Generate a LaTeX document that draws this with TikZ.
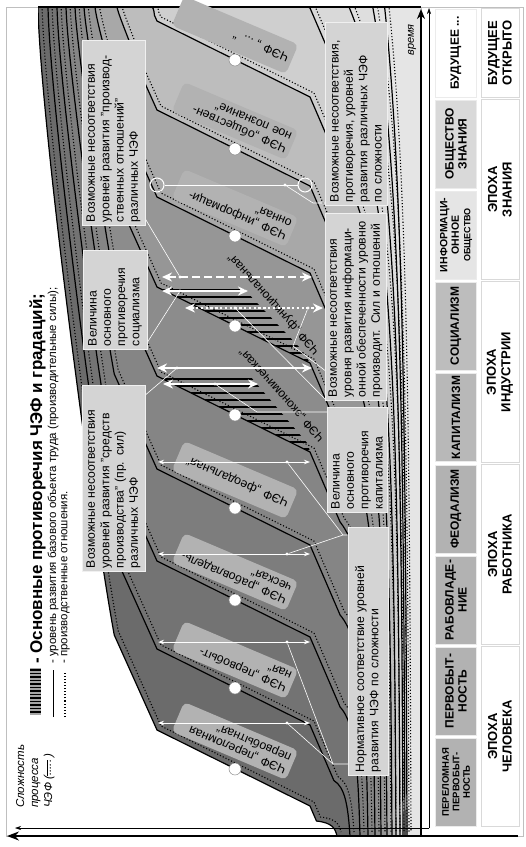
\documentclass[tikz,border=0pt]{standalone}
\usepackage{fontspec}
\setmainfont{Liberation Sans}
\usetikzlibrary{arrows.meta}

% curve of one CEF: circle height #1, top end #2, bottom end #3
\newcommand\setcef[3]{%
  \pgfmathsetmacro\Ay{#1-40}%
  \pgfmathsetmacro\By{#1+36}%
  \pgfmathsetmacro\hup{max(0,min(95,0.4*(\Ay-7)))}%
  \pgfmathsetmacro\Qx{157-0.45*\hup}%
  \pgfmathsetmacro\Qy{\Ay-\hup}%
  \pgfmathsetmacro\Lu{\Qy-7}%
  \pgfmathsetmacro\hlow{min(70,0.5*(836-\By))}%
  \pgfmathsetmacro\Px{310+0.43*\hlow}%
  \pgfmathsetmacro\Py{\By+\hlow}%
  \pgfmathsetmacro\Ml{836-\Py}%
  \edef\cefpath{(#2,7) .. controls ({#2+2},{7+0.17*(\Lu)}) and ({\Qx-0.04*(\Lu)},{\Qy-0.22*(\Lu)}) .. (\Qx,\Qy) -- (157,\Ay) -- (310,\By) -- (\Px,\Py) .. controls ({#3-5},{\Py+0.12*(\Ml)}) and ({#3-2},{\Py+0.45*(\Ml)}) .. (#3,836)}%
}
\def\ceflist{770/38/337/58, 689/48/350/55, 601/57/360/51, 509/66/368/48,
  416/75/375/45, 327/84/381/41, 237/95/387/34, 150/117/392/26, 61/152/396/19,
  -28/157/400/15, -117/157/403/13, -206/157/405/11, -295/157/407/10}
\newcommand\cefsym{\raisebox{5pt}{\rule{16pt}{0.5pt}}\kern-16pt\raisebox{1pt}{\makebox[16pt][s]{.\hfil.\hfil.\hfil.\hfil.}}}

\tikzset{
  lvl/.style={line width=1.2pt, black},
  rel/.style={line width=1.1pt, black, dash pattern=on 1.1pt off 2pt},
  knot/.style={circle, fill=white, draw=black!45, line width=0.5pt, minimum size=12pt, inner sep=0pt},
  ring/.style={circle, draw=white, line width=1pt, minimum size=14pt, inner sep=0pt},
  pin/.style={circle, fill=white, minimum size=3.2pt, inner sep=0pt},
  cefbox/.style={rotate=157, rounded corners=5pt, fill=black!30, minimum width=124pt, minimum height=32pt, text width=116pt, inner sep=3pt, align=left, font=\fontsize{12.3}{13}\selectfont},
  ceftxt/.style={rotate=132, inner sep=0pt, font=\fontsize{12}{13}\selectfont},
  note/.style={rotate=90, fill=black!17, draw=black!6, line width=1pt, inner sep=3pt, align=left, font=\fontsize{12.2}{14.3}\selectfont},
  gapsm/.style={white, line width=0.8pt, arrows={Stealth[length=6pt,width=4.5pt]-Stealth[length=6pt,width=4.5pt]}},
  gapbg/.style={white, line width=2.4pt, arrows={Stealth[length=10pt,width=9pt]-Stealth[length=10pt,width=9pt]}},
  link/.style={white, line width=0.6pt},
  era/.style={rotate=90, minimum width=88pt, minimum height=41pt, inner sep=1pt, align=center, draw=black!8, line width=1pt, font=\bfseries\fontsize{12}{13}\selectfont},
  age/.style={rotate=90, minimum height=38pt, inner sep=1pt, align=center, fill=white, draw=black!15, line width=0.8pt, font=\bfseries\fontsize{13}{14.5}\selectfont},
  legend/.style={rotate=90, anchor=west, inner sep=0pt},
}

\begin{document}
\begin{tikzpicture}[x=1pt, y=-1pt]
\useasboundingbox (0,0) rectangle (526,847);
\fill[white] (0,0) rectangle (526,847);
\draw[black!25, line width=0.6pt] (6,7) rectangle (523,836);

% bands of the CEF
\begin{scope}
  \clip (38,7) rectangle (421,836);
  \foreach \cy/\xt/\xb/\g in \ceflist {%
    \setcef{\cy}{\xt}{\xb}%
    \fill[black!\g] \cefpath -- (421,836) -- (421,7) -- cycle;
  }
  % main contradictions
  \begin{scope}
    \clip (157,376) -- (250,376) -- (308,444) -- (310,452) -- cycle;
    \foreach \y in {379,386,...,452} \draw[line width=2.4pt] (150,\y) -- (320,\y);
  \end{scope}
  \begin{scope}
    \clip (157,287) -- (242,287) -- (302,350) -- (310,363) -- cycle;
    \foreach \y in {290,297,...,363} \draw[line width=2.4pt] (150,\y) -- (320,\y);
  \end{scope}
  \foreach \cy/\xt/\xb/\g in \ceflist {%
    \setcef{\cy}{\xt}{\xb}%
    \draw[rel, shift={(4,-4)}] \cefpath;
    \draw[lvl] \cefpath;
  }
\end{scope}
\draw[line width=1.4pt] (38,7) -- (421,7);

% CEF labels
\node[cefbox] (cef0) at (235,741) {ЧЭФ „переломная\\первобытная“};
\node[cefbox] (cef1) at (235,660) {ЧЭФ „первобыт-\\ная“};
\node[cefbox] (cef2) at (235,572) {ЧЭФ „рабовладель-\\ческая“};
\node[cefbox] (cef3) at (235,480) {ЧЭФ „феодальная“};
\node[ceftxt] (cef4) at (282,395) {ЧЭФ „экономическая“};
\node[ceftxt] (cef5) at (274,304) {ЧЭФ „функциональная“};
\node[cefbox] (cef6) at (235,208) {ЧЭФ „информаци-\\онная“};
\node[cefbox] (cef7) at (235,121) {ЧЭФ „обществен-\\ное познание“};
\node[cefbox] (cef8) at (235,35) {ЧЭФ „ ... “};

% gaps between neighbouring CEF
\foreach \k/\y in {0/723, 1/642, 2/554, 3/462} {
  \coordinate (gl\k) at (158,\y);
  \coordinate (gr\k) at (310,\y);
  \draw[gapsm] (gl\k) -- (gr\k);
  \node[pin] (gp\k) at (287,\y) {};
}
\coordinate (cl1) at (157,368); \coordinate (cr1) at (312,368);
\draw[gapbg] (cl1) -- (cr1);
\node[pin] (cp1) at (177,368) {};
\coordinate (hl1) at (163,384); \coordinate (hr1) at (258,384);
\draw[gapbg] (hl1) -- (hr1);
\node[pin] (hp1) at (215,384) {};
\coordinate (sl1) at (162,277); \coordinate (sr1) at (312,277);
\draw[gapbg, dash pattern=on 8pt off 4pt] (sl1) -- (sr1);
\node[pin] (sp1) at (180,277) {};
\coordinate (sl2) at (162,291); \coordinate (sr2) at (248,291);
\draw[gapbg] (sl2) -- (sr2);
\node[pin] (sp2) at (180,291) {};
\coordinate (sl3) at (185,308); \coordinate (sr3) at (323,308);
\draw[gapbg, dash pattern=on 2.4pt off 2.4pt] (sl3) -- (sr3);
\node[pin] (sp3) at (235,308) {};
\node[pin] (sp4) at (308,308) {};
\node[ring] (rg1) at (157,185) {};
\node[ring] (rg2) at (305,185) {};
\draw[link, line width=1pt] (rg1) -- (rg2);
\node[pin] (rp) at (285,185) {};

% circles on the levels
\foreach \cy [count=\k from 0] in {770,689,601,509,416,327,237,150,61}
  \node[knot] (kn\k) at (235,{\cy-1}) {};

% links to the notes
\coordinate (kneeA) at (333,764); \coordinate (nnA) at (350,764);
\coordinate (kneeB) at (343,535); \coordinate (nnB) at (350,535);
\coordinate (mnE) at (143,397);
\coordinate (kneeC) at (257,412); \coordinate (cpE) at (329,412);
\coordinate (prE) at (143,215);
\coordinate (soE) at (145,346);
\coordinate (inE) at (327,401);
\coordinate (kneeD) at (293,346); \coordinate (inF) at (327,372);
\coordinate (kneeE) at (313,203); \coordinate (gpE) at (327,203);
\draw[link] (gp0) -- (kneeA) -- (nnA);
\draw[link] (gp1) -- (kneeA);
\draw[link] (gp2) -- (kneeB) -- (nnB);
\draw[link] (gp3) -- (kneeB);
\draw[link] (cp1) -- (mnE);
\draw[link] (hp1) -- (kneeC) -- (cpE);
\draw[link] (sp1) -- (prE);
\draw[link] (sp2) -- (soE);
\draw[link] (sp3) -- (inE);
\draw[link] (sp4) -- (kneeD) -- (inF);
\draw[link] (rp) -- (kneeE) -- (gpE);

% notes
\node[note, text width=179pt, minimum height=63pt] (nprod) at (113.5,132.5) {Возможные несоответствия\\уровней развития "производ-\\ственных отношений"\\различных ЧЭФ};
\node[note, text width=93pt, minimum height=64pt] (nsoc) at (115,299.5) {Величина\\основного\\противоречия\\социализма};
\node[note, text width=180pt, minimum height=63pt] (nmean) at (113.5,478) {Возможные несоответствия\\уровней развития "средств\\производства" (пр. сил)\\различных ЧЭФ};
\node[note, text width=242pt, minimum height=40pt] (nnorm) at (368,651) {Нормативное соответствие уровней\\развития ЧЭФ по сложности};
\node[note, text width=99pt, minimum height=60pt] (ncap) at (357,459.5) {Величина\\основного\\противоречия\\капитализма};
\node[note, text width=181pt, minimum height=61pt] (ninfo) at (355.5,306.5) {Возможные несоответствия\\уровня развития информаци-\\онной обеспеченности уровню\\производит. Сил и отношений};
\node[note, text width=177pt, minimum height=62pt] (ngap) at (356,113.5) {Возможные несоответствия,\\противоречия, уровней\\развития различных ЧЭФ\\по сложности};

% axes
\coordinate (o) at (421,836); \coordinate (tend) at (421,9);
\coordinate (oe) at (518,836); \coordinate (cend) at (7,836);
\coordinate (o2) at (429,828); \coordinate (tend2) at (429,8); \coordinate (cend2) at (15,828);
\draw[line width=1.6pt, -{Stealth[length=10pt,width=8pt]}] (o) -- (tend);
\draw[line width=1.6pt, -{Stealth[length=12pt,width=9pt]}] (oe) -- (cend);
\draw[line width=0.6pt, -{Stealth[length=6pt,width=4pt]}] (o2) -- (tend2);
\draw[line width=0.6pt, -{Stealth[length=6pt,width=4pt]}] (o2) -- (cend2);
\node[rotate=90, fill=black!10, inner sep=1pt, font=\itshape\fontsize{11}{12}\selectfont] (tm) at (412,40) {время};
\node[rotate=90, anchor=north west, align=left, inner sep=0pt, font=\itshape\fontsize{11.5}{14}\selectfont] (cx) at (16,808) {Сложность\\процесса\\ЧЭФ (\cefsym\,)};

% legend
\fill[black!35] (30,668) rectangle (41,715);
\foreach \y in {670,673.5,...,714} \draw[line width=1.4pt] (30,\y) -- (41,\y);
\node[legend, font=\bfseries\fontsize{17}{19}\selectfont] (lg1) at (37.5,664) {- Основные противоречия ЧЭФ и градаций;};
\coordinate (ls1) at (53,717); \coordinate (ls2) at (53,670);
\draw[line width=1pt] (ls1) -- (ls2);
\node[legend, font=\fontsize{11.5}{13}\selectfont] (lg2) at (53,664) {- уровень развития базового объекта труда (производительные силы);};
\coordinate (ld1) at (65,717); \coordinate (ld2) at (65,672);
\draw[rel] (ld1) -- (ld2);
\node[legend, font=\fontsize{11.5}{13}\selectfont] (lg3) at (65.5,664) {- производственные отношения.};

% table of societies and epochs
\node[era, fill=black!30, font=\bfseries\fontsize{9.5}{10.5}\selectfont] (t0) at (456,782) {ПЕРЕЛОМНАЯ\\ПЕРВОБЫТ-\\НОСТЬ};
\node[era, fill=black!30] (t1) at (456,691) {ПЕРВОБЫТ-\\НОСТЬ};
\node[era, fill=black!30] (t2) at (456,600) {РАБОВЛАДЕ-\\НИЕ};
\node[era, fill=black!30] (t3) at (456,509) {ФЕОДАЛИЗМ};
\node[era, fill=black!28] (t4) at (456,417.5) {КАПИТАЛИЗМ};
\node[era, fill=black!26] (t5) at (456,326) {СОЦИАЛИЗМ};
\node[era, fill=black!10, font=\bfseries\fontsize{10.5}{11.5}\selectfont] (t6) at (456,235) {ИНФОРМАЦИ-\\ОННОЕ\\{\fontsize{9}{10}\selectfont ОБЩЕСТВО}};
\node[era, fill=black!15] (t7) at (456,144) {ОБЩЕСТВО\\ЗНАНИЯ};
\node[era, fill=white] (t8) at (456,53) {БУДУЩЕЕ ...};
\node[age, minimum width=180pt] (e0) at (500,736.5) {ЭПОХА\\ЧЕЛОВЕКА};
\node[age, minimum width=180pt] (e1) at (500,554.5) {ЭПОХА\\РАБОТНИКА};
\node[age, minimum width=181pt] (e2) at (500,372) {ЭПОХА\\ИНДУСТРИИ};
\node[age, minimum width=180pt] (e3) at (500,189.5) {ЭПОХА\\ЗНАНИЯ};
\node[age, minimum width=89pt] (e4) at (500,53) {БУДУЩЕЕ\\ОТКРЫТО};
\end{tikzpicture}
\end{document}
